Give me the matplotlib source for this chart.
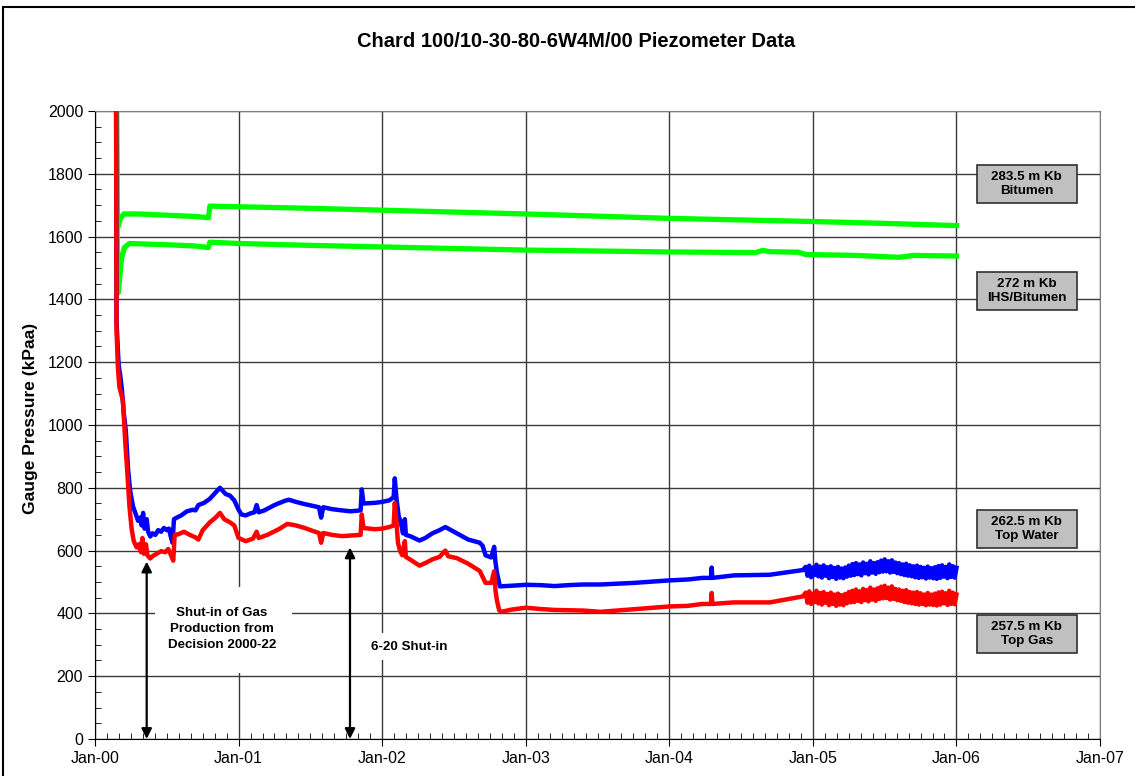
import matplotlib
matplotlib.use("Agg")
import matplotlib.pyplot as plt
from matplotlib.patches import Rectangle
from matplotlib.ticker import MultipleLocator

plt.rcParams['font.family'] = ['Liberation Sans', 'DejaVu Sans']

# ---- data (decimal years, kPa) ----
green_hi_t = [2000.146, 2000.155, 2000.162, 2000.175, 2000.200, 2000.300, 2000.500, 2000.700, 2000.790,
              2000.800, 2001.000, 2001.500, 2002.000, 2002.500, 2003.000, 2003.500, 2004.000, 2004.500,
              2005.000, 2005.500, 2006.000]
green_hi_v = [2300, 1680, 1632, 1655, 1672, 1672, 1668, 1664, 1660,
              1697, 1695, 1690, 1684, 1678, 1672, 1665, 1658, 1653,
              1648, 1642, 1635]

green_lo_t = [2000.146, 2000.155, 2000.162, 2000.172, 2000.185, 2000.205, 2000.240, 2000.300, 2000.500,
              2000.700, 2000.790, 2000.800, 2001.000, 2001.500, 2002.000, 2002.500, 2003.000, 2003.500,
              2004.000, 2004.600, 2004.650, 2004.700, 2004.900, 2004.950, 2005.300, 2005.600, 2005.700,
              2006.000]
green_lo_v = [2300, 1600, 1421, 1470, 1530, 1565, 1578, 1577, 1574,
              1570, 1565, 1582, 1578, 1572, 1567, 1562, 1557, 1554,
              1551, 1549, 1556, 1552, 1550, 1543, 1540, 1534, 1540,
              1538]

blue_t = [2000.146, 2000.150, 2000.158, 2000.165, 2000.175, 2000.188, 2000.200, 2000.215, 2000.230,
          2000.245, 2000.265, 2000.285, 2000.300, 2000.315, 2000.325, 2000.335, 2000.345, 2000.360,
          2000.370, 2000.385, 2000.400, 2000.420, 2000.440, 2000.460, 2000.480, 2000.500, 2000.515,
          2000.530, 2000.540, 2000.550, 2000.570, 2000.600, 2000.640, 2000.680, 2000.700, 2000.720,
          2000.760, 2000.800, 2000.840, 2000.870, 2000.890, 2000.910, 2000.940, 2000.970, 2001.000,
          2001.020, 2001.050, 2001.080, 2001.110, 2001.126, 2001.140, 2001.180, 2001.250, 2001.320,
          2001.350, 2001.400, 2001.460, 2001.520, 2001.560, 2001.575, 2001.590, 2001.650, 2001.720,
          2001.780, 2001.850, 2001.858, 2001.870, 2001.950, 2002.000, 2002.050, 2002.080, 2002.088,
          2002.100, 2002.115, 2002.130, 2002.145, 2002.158, 2002.165, 2002.200, 2002.260, 2002.300,
          2002.350, 2002.400, 2002.440, 2002.480, 2002.520, 2002.600, 2002.680, 2002.700, 2002.720,
          2002.760, 2002.780, 2002.790, 2002.800, 2002.820, 2002.900, 2003.000, 2003.100, 2003.200,
          2003.300, 2003.400, 2003.520, 2003.750, 2004.000, 2004.130, 2004.230, 2004.290, 2004.295,
          2004.300, 2004.450, 2004.700, 2004.930]
blue_v = [2300, 1330, 1250, 1190, 1160, 1110, 1040, 980, 860,
          790, 740, 715, 695, 705, 680, 720, 670, 700,
          660, 645, 655, 650, 665, 660, 672, 665, 670,
          640, 625, 700, 705, 712, 725, 730, 728, 745,
          752, 765, 785, 800, 790, 780, 775, 760, 730,
          715, 712, 718, 722, 745, 722, 728, 745, 758,
          762, 755, 748, 742, 738, 705, 738, 732, 728,
          725, 728, 795, 750, 752, 755, 760, 770, 830,
          765, 710, 690, 655, 700, 650, 645, 632, 640,
          655, 665, 675, 665, 655, 635, 625, 615, 585,
          578, 612, 560, 529, 486, 488, 491, 490, 487,
          490, 492, 492, 497, 505, 508, 513, 513, 546,
          513, 521, 523, 538]

red_t = [2000.146, 2000.150, 2000.160, 2000.170, 2000.185, 2000.195, 2000.210, 2000.225, 2000.240,
         2000.255, 2000.270, 2000.290, 2000.305, 2000.320, 2000.330, 2000.340, 2000.355, 2000.365,
         2000.385, 2000.400, 2000.430, 2000.460, 2000.490, 2000.510, 2000.530, 2000.545, 2000.555,
         2000.580, 2000.620, 2000.660, 2000.700, 2000.720, 2000.750, 2000.800, 2000.840, 2000.870,
         2000.900, 2000.940, 2000.970, 2001.000, 2001.050, 2001.100, 2001.126, 2001.140, 2001.200,
         2001.280, 2001.340, 2001.400, 2001.460, 2001.520, 2001.560, 2001.575, 2001.590, 2001.650,
         2001.720, 2001.780, 2001.850, 2001.858, 2001.870, 2001.950, 2002.000, 2002.050, 2002.080,
         2002.088, 2002.100, 2002.110, 2002.124, 2002.140, 2002.158, 2002.165, 2002.200, 2002.260,
         2002.300, 2002.350, 2002.400, 2002.440, 2002.460, 2002.520, 2002.600, 2002.680, 2002.720,
         2002.760, 2002.780, 2002.790, 2002.800, 2002.815, 2002.830, 2002.900, 2003.000, 2003.100,
         2003.200, 2003.300, 2003.400, 2003.520, 2003.750, 2004.000, 2004.130, 2004.230, 2004.290,
         2004.295, 2004.300, 2004.450, 2004.700, 2004.930]
red_v = [2300, 1300, 1180, 1120, 1095, 1075, 950, 850, 740,
         670, 630, 610, 620, 595, 640, 590, 620, 585,
         575, 582, 590, 598, 595, 605, 585, 568, 650,
         652, 660, 650, 642, 635, 665, 690, 705, 720,
         700, 690, 680, 640, 630, 638, 660, 640, 650,
         668, 685, 680, 672, 662, 656, 625, 656, 650,
         646, 648, 650, 715, 672, 668, 670, 675, 680,
         752, 690, 625, 600, 585, 630, 580, 570, 552,
         560, 572, 580, 600, 582, 576, 558, 535, 497,
         497, 534, 470, 440, 410, 405, 412, 418, 414,
         411, 410, 409, 405, 413, 422, 424, 430, 430,
         465, 430, 435, 435, 454]

# noisy logging period 2005 (read as upper / lower swings of the band)
noisy_t = [2004.9500, 2004.9625, 2004.9750, 2004.9875, 2005.0000, 2005.0125, 2005.0250, 2005.0375,
           2005.0500, 2005.0625, 2005.0750, 2005.0875, 2005.1000, 2005.1125, 2005.1250, 2005.1375,
           2005.1500, 2005.1625, 2005.1750, 2005.1875, 2005.2000, 2005.2125, 2005.2250, 2005.2375,
           2005.2500, 2005.2625, 2005.2750, 2005.2875, 2005.3000, 2005.3125, 2005.3250, 2005.3375,
           2005.3500, 2005.3625, 2005.3750, 2005.3875, 2005.4000, 2005.4125, 2005.4250, 2005.4375,
           2005.4500, 2005.4625, 2005.4750, 2005.4875, 2005.5000, 2005.5125, 2005.5250, 2005.5375,
           2005.5500, 2005.5625, 2005.5750, 2005.5875, 2005.6000, 2005.6125, 2005.6250, 2005.6375,
           2005.6500, 2005.6625, 2005.6750, 2005.6875, 2005.7000, 2005.7125, 2005.7250, 2005.7375,
           2005.7500, 2005.7625, 2005.7750, 2005.7875, 2005.8000, 2005.8125, 2005.8250, 2005.8375,
           2005.8500, 2005.8625, 2005.8750, 2005.8875, 2005.9000, 2005.9125, 2005.9250, 2005.9375,
           2005.9500, 2005.9625, 2005.9750, 2005.9875, 2006.0000]
blue_noisy_v = [548, 520, 552, 515, 546, 522, 555, 518, 549, 514, 553, 520, 547, 512, 550, 516,
                545, 510, 548, 514, 543, 512, 546, 517, 552, 520, 557, 522, 560, 525, 556, 521,
                562, 528, 558, 524, 566, 530, 560, 526, 563, 531, 568, 533, 572, 534, 566, 530,
                569, 532, 562, 528, 560, 525, 556, 522, 558, 520, 553, 518, 550, 515, 552, 513,
                548, 515, 545, 511, 549, 514, 544, 512, 547, 510, 551, 513, 553, 517, 548, 512,
                556, 516, 550, 514, 545]
red_noisy_v = [466, 434, 470, 430, 462, 436, 472, 432, 465, 428, 468, 434, 462, 426, 466, 430,
               460, 424, 463, 428, 458, 426, 462, 432, 468, 435, 472, 436, 476, 440, 470, 436,
               478, 442, 474, 438, 482, 444, 476, 440, 480, 446, 485, 448, 488, 449, 482, 444,
               486, 446, 478, 442, 476, 440, 472, 436, 474, 434, 468, 432, 466, 430, 468, 428,
               464, 430, 460, 426, 465, 428, 460, 427, 463, 425, 467, 428, 469, 432, 464, 427,
               472, 430, 466, 429, 460]

year_ticks = [2000, 2001, 2002, 2003, 2004, 2005, 2006, 2007]
year_labels = ['Jan-00', 'Jan-01', 'Jan-02', 'Jan-03', 'Jan-04', 'Jan-05', 'Jan-06', 'Jan-07']

depth_labels = ['283.5 m Kb\nBitumen', '272 m Kb\nIHS/Bitumen', '262.5 m Kb\nTop Water', '257.5 m Kb\nTop Gas']
depth_box_y = [1707, 1366, 608, 274]

# ---- figure ----
fig = plt.figure(figsize=(11.35, 7.76), dpi=100)
ax = fig.add_axes([0.0837, 0.0477, 0.8855, 0.8093])

ax.plot(green_hi_t, green_hi_v, color='#00FF00', lw=3.8, zorder=3)
ax.plot(green_lo_t, green_lo_v, color='#00FF00', lw=3.8, zorder=3)
ax.plot(blue_t + noisy_t, blue_v + blue_noisy_v, color='#0000FF', lw=3.2, zorder=4)
ax.plot(red_t + noisy_t, red_v + red_noisy_v, color='#FF0000', lw=3.2, zorder=5)

ax.set_xlim(2000, 2007)
ax.set_ylim(0, 2000)
ax.set_xticks(year_ticks)
ax.set_xticklabels(year_labels)
ax.xaxis.set_minor_locator(MultipleLocator(1 / 12))
ax.yaxis.set_major_locator(MultipleLocator(200))
ax.yaxis.set_minor_locator(MultipleLocator(50))
ax.tick_params(axis='both', which='major', direction='out', length=5, labelsize=11.5, colors='black')
ax.tick_params(axis='both', which='minor', direction='in', length=4)
ax.grid(True, which='major', color='#3a3a3a', lw=1.0, zorder=1)
ax.set_axisbelow(True)
for s in ['top', 'right']:
    ax.spines[s].set_color('#808080')
for s in ['left', 'bottom']:
    ax.spines[s].set_color('black')

# depth boxes on the right
for lab, y0 in zip(depth_labels, depth_box_y):
    ax.add_patch(Rectangle((2006.142, y0), 0.696, 121, facecolor='#C0C0C0', edgecolor='#303030',
                           lw=1.2, zorder=6))
    ax.text(2006.49, y0 + 60.5, lab, ha='center', va='center', fontsize=9.6, fontweight='bold',
            linespacing=1.25, zorder=7)

# annotation text boxes (white, hide gridlines)
ax.add_patch(Rectangle((2000.418, 210), 0.954, 274, facecolor='white', edgecolor='none', zorder=2))
ax.text(2000.884, 350, 'Shut-in of Gas\nProduction from\nDecision 2000-22', ha='center', va='center',
        fontsize=9.6, fontweight='bold', linespacing=1.4, zorder=7)
ax.add_patch(Rectangle((2001.88, 252), 0.59, 86, facecolor='white', edgecolor='none', zorder=2))
ax.text(2002.187, 293, '6-20 Shut-in', ha='center', va='center', fontsize=9.6, fontweight='bold', zorder=7)

# arrows
arr = dict(arrowstyle='<|-|>', color='black', lw=1.6, mutation_scale=15, shrinkA=0, shrinkB=0)
ax.annotate('', xy=(2000.36, 0), xytext=(2000.36, 565), arrowprops=arr, zorder=8)
ax.annotate('', xy=(2001.776, 0), xytext=(2001.776, 610), arrowprops=arr, zorder=8)

fig.text(0.5075, 0.947, 'Chard 100/10-30-80-6W4M/00 Piezometer Data', ha='center', va='center',
         fontsize=14.5, fontweight='bold')
fig.text(0.0265, 0.461, 'Gauge Pressure (kPaa)', rotation=90, ha='center', va='center',
         fontsize=12.5, fontweight='bold')

fig.patches.append(Rectangle((3 / 1135, -0.01), 1.01, 1 - 7 / 776 + 0.01, transform=fig.transFigure,
                             fill=False, edgecolor='black', lw=1.5))

fig.savefig('out.png', dpi=100)
